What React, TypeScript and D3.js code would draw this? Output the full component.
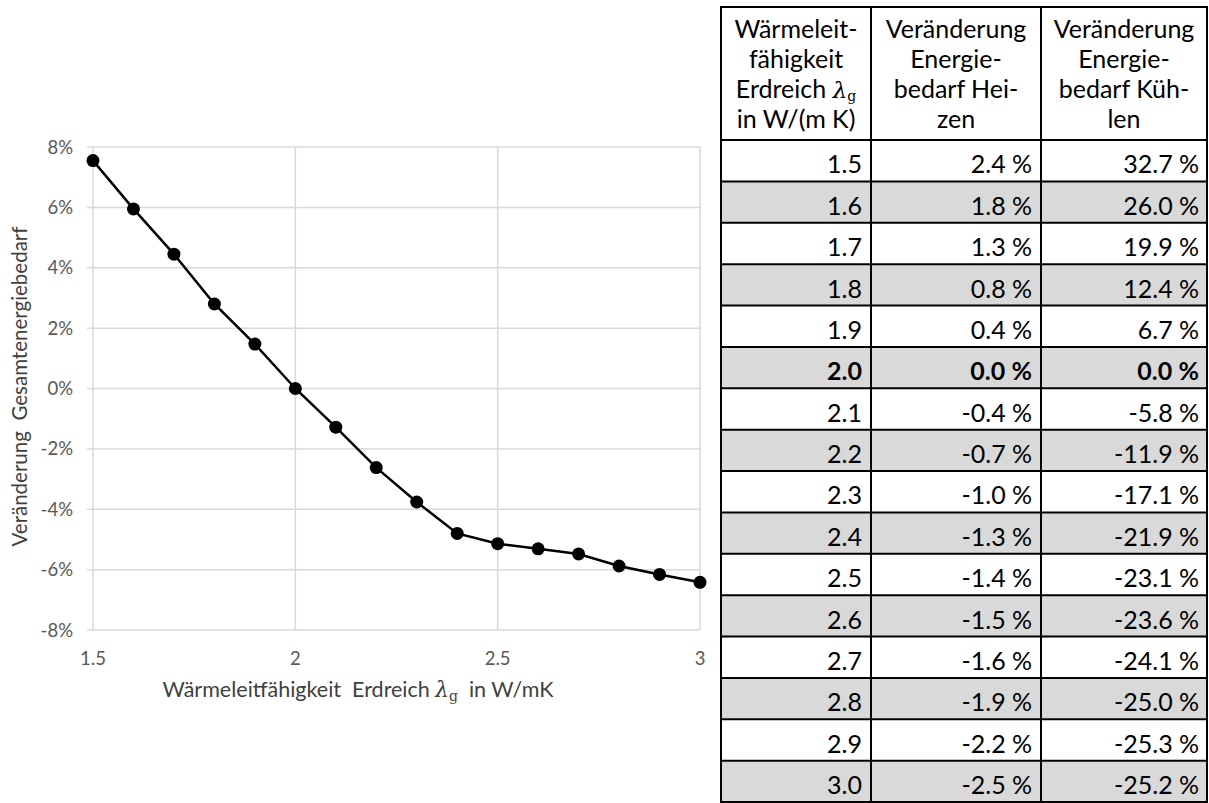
import React from 'react';
import * as d3 from 'd3';

// Wärmeleitfähigkeit Erdreich (W/mK)
const lambdas = [1.5, 1.6, 1.7, 1.8, 1.9, 2.0, 2.1, 2.2, 2.3, 2.4, 2.5, 2.6, 2.7, 2.8, 2.9, 3.0];
// Veränderung Gesamtenergiebedarf in %
const totalChange = [7.55, 5.95, 4.45, 2.8, 1.47, 0, -1.28, -2.62, -3.76, -4.8, -5.14, -5.31, -5.48, -5.88, -6.16, -6.42];
// table columns
const heatingChange = [2.4, 1.8, 1.3, 0.8, 0.4, 0.0, -0.4, -0.7, -1.0, -1.3, -1.4, -1.5, -1.6, -1.9, -2.2, -2.5];
const coolingChange = [32.7, 26.0, 19.9, 12.4, 6.7, 0.0, -5.8, -11.9, -17.1, -21.9, -23.1, -23.6, -24.1, -25.0, -25.3, -25.2];
const xTicks = [1.5, 2, 2.5, 3];
const yTicks = [-8, -6, -4, -2, 0, 2, 4, 6, 8];

const font = 'Lato, Carlito, Calibri, sans-serif';
const W = 1209;
const H = 803;

const Chart = () => {
  const x = d3.scaleLinear().domain([1.5, 3]).range([93, 700]);
  const y = d3.scaleLinear().domain([-8, 8]).range([630, 147]);
  const line = d3.line<number>()
    .x((d, i) => x(lambdas[i]))
    .y((d) => y(d));

  return (
    <g fontFamily={font}>
      {yTicks.map((t) => (
        <line key={'h' + t} x1={87} x2={x(3)} y1={y(t)} y2={y(t)} stroke="#d9d9d9" strokeWidth={1.5} />
      ))}
      {xTicks.map((t) => (
        <line key={'v' + t} x1={x(t)} x2={x(t)} y1={y(8)} y2={y(-8)} stroke="#d9d9d9" strokeWidth={1.5} />
      ))}
      {yTicks.map((t) => (
        <text key={'yl' + t} x={73} y={y(t) + 6.5} textAnchor="end" fontSize={18.5} fill="#595959">
          {t + '%'}
        </text>
      ))}
      {xTicks.map((t) => (
        <text key={'xl' + t} x={x(t)} y={665} textAnchor="middle" fontSize={18.5} fill="#595959">
          {String(t)}
        </text>
      ))}
      <path d={line(totalChange) || ''} fill="none" stroke="#000" strokeWidth={2.5} />
      {totalChange.map((v, i) => (
        <circle key={'p' + i} cx={x(lambdas[i])} cy={y(v)} r={6.5} fill="#000" />
      ))}
      <text x={358} y={697} textAnchor="middle" fontSize={21.5} fill="#404040" xmlSpace="preserve">
        {'Wärmeleitfähigkeit  Erdreich '}
        <tspan fontFamily="DejaVu Serif, serif" fontStyle="italic">λ</tspan>
        <tspan fontFamily="DejaVu Serif, serif" fontSize={14} dy={4}>g</tspan>
        <tspan dy={-4}>{'  in W/mK'}</tspan>
      </text>
      <text
        transform={`translate(27,${(y(8) + y(-8)) / 2 - 2}) rotate(-90)`}
        textAnchor="middle"
        fontSize={20.5}
        fill="#404040"
        xmlSpace="preserve"
      >
        {'Veränderung  Gesamtenergiebedarf'}
      </text>
    </g>
  );
};

const fmt = (v: number) => v.toFixed(1) + '\u202f%';

const Table = () => {
  const cols = [721, 871, 1041, 1207];
  const top = 7;
  const headBottom = 140;
  const rows = d3.scaleBand<number>().domain(d3.range(lambdas.length)).range([headBottom, 802]);
  const rh = rows.bandwidth();
  const headers = [
    ['Wärmeleit-', 'fähigkeit', 'LAMBDA', 'in W/(m K)'],
    ['Veränderung', 'Energie-', 'bedarf Hei-', 'zen'],
    ['Veränderung', 'Energie-', 'bedarf Küh-', 'len'],
  ];
  const fs = 25;
  return (
    <g fontFamily={font} fontSize={fs} fill="#000">
      {lambdas.map((l, i) => (
        <rect key={'bg' + i} x={cols[0]} y={rows(i)} width={cols[3] - cols[0]} height={rh} fill={i % 2 === 1 ? '#d9d9d9' : '#fff'} />
      ))}
      {headers.map((lines, c) =>
        lines.map((t, k) => {
          const cx = (cols[c] + cols[c + 1]) / 2;
          const by = 38 + k * 30;
          if (t === 'LAMBDA') {
            return (
              <text key={'h' + c + k} x={cx} y={by} textAnchor="middle">
                Erdreich{' '}
                <tspan fontFamily="DejaVu Serif, serif" fontStyle="italic" fontSize={23}>λ</tspan>
                <tspan fontFamily="DejaVu Serif, serif" fontSize={14} dy={3}>g</tspan>
              </text>
            );
          }
          return (
            <text key={'h' + c + k} x={cx} y={by} textAnchor="middle">
              {t}
            </text>
          );
        })
      )}
      {lambdas.map((l, i) => {
        const yy = (rows(i) as number) + rh - 8;
        const bold = l === 2.0 ? 'bold' : 'normal';
        return (
          <g key={'r' + i} fontWeight={bold}>
            <text x={cols[1] - 9} y={yy} textAnchor="end">{l.toFixed(1)}</text>
            <text x={cols[2] - 9} y={yy} textAnchor="end">{fmt(heatingChange[i])}</text>
            <text x={cols[3] - 8} y={yy} textAnchor="end">{fmt(coolingChange[i])}</text>
          </g>
        );
      })}
      {[top, headBottom, ...lambdas.map((l, i) => (rows(i) as number) + rh)].map((yy, i) => (
        <line key={'hl' + i} x1={cols[0] - 1} x2={cols[3] + 1} y1={yy} y2={yy} stroke="#000" strokeWidth={2} />
      ))}
      {cols.map((cx, i) => (
        <line key={'vl' + i} x1={cx} x2={cx} y1={top} y2={803} stroke="#000" strokeWidth={2} />
      ))}
    </g>
  );
};

export default function App() {
  return (
    <svg width={W} height={H} style={{ position: 'absolute', left: 0, top: 0, background: '#fff' }}>
      <rect width={W} height={H} fill="#fff" />
      <Chart />
      <Table />
    </svg>
  );
}
